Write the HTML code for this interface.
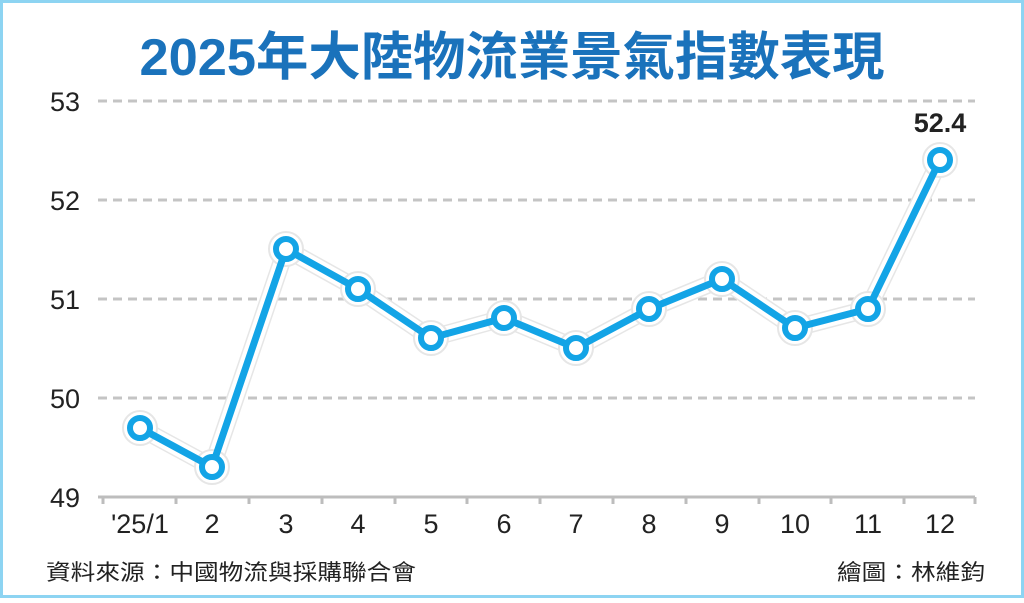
<!DOCTYPE html>
<html><head><meta charset="utf-8"><style>
html,body{margin:0;padding:0;background:#fff;}
</style></head><body>
<svg width="1024" height="598" viewBox="0 0 1024 598" xmlns="http://www.w3.org/2000/svg" font-family="Liberation Sans, Noto Sans CJK TC, sans-serif">
<rect x="1.5" y="1.5" width="1021" height="595" fill="#fff" stroke="#8dd4f2" stroke-width="3"/>
<text x="512" y="75" text-anchor="middle" font-size="52" font-weight="bold" fill="#1a72bb" textLength="745" lengthAdjust="spacingAndGlyphs" font-family="Liberation Sans, Noto Sans CJK TC, sans-serif">2025年大陸物流業景氣指數表現</text>
<g stroke="#c4c4c4" stroke-width="3" stroke-dasharray="9,6">
<line x1="98" y1="101" x2="975" y2="101"/>
<line x1="98" y1="200" x2="975" y2="200"/>
<line x1="98" y1="299" x2="975" y2="299"/>
<line x1="98" y1="398" x2="975" y2="398"/>
</g>
<line x1="98" y1="497" x2="975" y2="497" stroke="#bdbdbd" stroke-width="3"/>
<g stroke="#bdbdbd" stroke-width="3">
<line x1="103" y1="497" x2="103" y2="504"/><line x1="176" y1="497" x2="176" y2="504"/><line x1="249" y1="497" x2="249" y2="504"/><line x1="322" y1="497" x2="322" y2="504"/><line x1="395" y1="497" x2="395" y2="504"/><line x1="467" y1="497" x2="467" y2="504"/><line x1="540" y1="497" x2="540" y2="504"/><line x1="613" y1="497" x2="613" y2="504"/><line x1="686" y1="497" x2="686" y2="504"/><line x1="759" y1="497" x2="759" y2="504"/><line x1="831" y1="497" x2="831" y2="504"/><line x1="904" y1="497" x2="904" y2="504"/><line x1="975" y1="497" x2="975" y2="504"/>
</g>
<g font-size="27" fill="#222" text-anchor="end">
<text x="80" y="111">53</text><text x="80" y="210">52</text><text x="80" y="309">51</text><text x="80" y="408">50</text><text x="80" y="507">49</text>
</g>
<g font-size="27" fill="#222" text-anchor="middle">
<text x="140" y="533">'25/1</text><text x="212" y="533">2</text><text x="286" y="533">3</text><text x="358" y="533">4</text><text x="431" y="533">5</text><text x="504" y="533">6</text><text x="576" y="533">7</text><text x="649" y="533">8</text><text x="722" y="533">9</text><text x="795" y="533">10</text><text x="868" y="533">11</text><text x="940" y="533">12</text>
</g>
<polyline points="140,428 212,467 286,249 358,289 431,338 504,318 576,348 649,309 722,279 795,328 868,309 940,160" fill="none" stroke="#e6e6e6" stroke-width="18" stroke-linejoin="round"/>
<polyline points="140,428 212,467 286,249 358,289 431,338 504,318 576,348 649,309 722,279 795,328 868,309 940,160" fill="none" stroke="#fff" stroke-width="15" stroke-linejoin="round"/>
<g fill="#fff" stroke="#e6e6e6" stroke-width="2">
<circle cx="140" cy="428" r="17"/><circle cx="212" cy="467" r="17"/><circle cx="286" cy="249" r="17"/><circle cx="358" cy="289" r="17"/><circle cx="431" cy="338" r="17"/><circle cx="504" cy="318" r="17"/><circle cx="576" cy="348" r="17"/><circle cx="649" cy="309" r="17"/><circle cx="722" cy="279" r="17"/><circle cx="795" cy="328" r="17"/><circle cx="868" cy="309" r="17"/><circle cx="940" cy="160" r="17"/>
</g>
<polyline points="140,428 212,467 286,249 358,289 431,338 504,318 576,348 649,309 722,279 795,328 868,309 940,160" fill="none" stroke="#13a4e6" stroke-width="7" stroke-linejoin="round"/>
<g fill="#fff" stroke="#13a4e6" stroke-width="6">
<circle cx="140" cy="428" r="10"/><circle cx="212" cy="467" r="10"/><circle cx="286" cy="249" r="10"/><circle cx="358" cy="289" r="10"/><circle cx="431" cy="338" r="10"/><circle cx="504" cy="318" r="10"/><circle cx="576" cy="348" r="10"/><circle cx="649" cy="309" r="10"/><circle cx="722" cy="279" r="10"/><circle cx="795" cy="328" r="10"/><circle cx="868" cy="309" r="10"/><circle cx="940" cy="160" r="10"/>
</g>
<text x="940" y="132" text-anchor="middle" font-size="27" font-weight="bold" fill="#222">52.4</text>
<text x="46" y="580" font-size="22" fill="#222" textLength="370" lengthAdjust="spacingAndGlyphs">資料來源：中國物流與採購聯合會</text>
<text x="985" y="580" text-anchor="end" font-size="22" fill="#222" textLength="148" lengthAdjust="spacingAndGlyphs">繪圖：林維鈞</text>
</svg>
</body></html>
